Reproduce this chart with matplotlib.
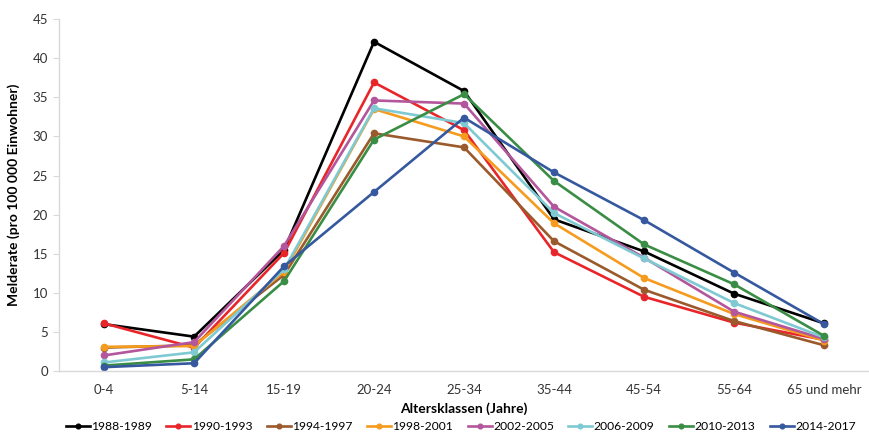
import matplotlib
matplotlib.use("Agg")
import matplotlib.pyplot as plt

categories = ["0-4", "5-14", "15-19", "20-24", "25-34", "35-44", "45-54", "55-64", "65 und mehr"]
series_names = ["1988-1989", "1990-1993", "1994-1997", "1998-2001", "2002-2005", "2006-2009", "2010-2013", "2014-2017"]
s1988 = [6.0, 4.4, 15.5, 42.1, 35.8, 19.4, 15.3, 9.9, 6.1]
s1990 = [6.1, 3.0, 15.1, 36.9, 30.8, 15.2, 9.5, 6.2, 4.0]
s1994 = [3.0, 3.3, 12.3, 30.4, 28.6, 16.6, 10.4, 6.4, 3.3]
s1998 = [3.1, 3.2, 12.7, 33.5, 30.0, 18.9, 11.9, 7.3, 3.9]
s2002 = [2.0, 3.7, 16.0, 34.6, 34.2, 21.0, 14.5, 7.6, 4.1]
s2006 = [1.1, 2.4, 13.0, 33.6, 31.7, 20.2, 14.4, 8.7, 4.3]
s2010 = [0.7, 1.5, 11.5, 29.6, 35.4, 24.3, 16.2, 11.1, 4.5]
s2014 = [0.5, 1.0, 13.4, 22.9, 32.4, 25.4, 19.3, 12.6, 6.0]
all_series = [s1988, s1990, s1994, s1998, s2002, s2006, s2010, s2014]
colors = ["#000000", "#e8262a", "#9a5a2b", "#f59b1d", "#b3569c", "#7fcad2", "#3a8d45", "#35589e"]

plt.rcParams['font.family'] = ['Lato', 'DejaVu Sans']

fig = plt.figure(figsize=(8.69, 4.34), dpi=100)
ax = fig.add_axes([0.068, 0.145, 0.932, 0.811])

x = list(range(len(categories)))
for name, vals, c in zip(series_names, all_series, colors):
    ax.plot(x, vals, color=c, lw=1.9, marker='o', ms=4.5, label=name)

ax.set_xlim(-0.5, len(categories) - 0.5)
ax.set_ylim(0, 45)
ax.set_yticks(range(0, 46, 5))
ax.set_xticks(x)
ax.set_xticklabels(categories)
for s in ["top", "right"]:
    ax.spines[s].set_visible(False)
for s in ["left", "bottom"]:
    ax.spines[s].set_color("#d9d9d9")
    ax.spines[s].set_linewidth(1.0)
ax.tick_params(axis='y', length=4, color="#d9d9d9", labelsize=9.5, labelcolor="#333333", pad=4)
ax.tick_params(axis='x', length=0, labelsize=9.5, labelcolor="#333333", pad=9)

ax.set_ylabel("Melderate (pro 100 000 Einwohner)", fontsize=10, fontweight='bold', labelpad=9)
ax.set_xlabel("Altersklassen (Jahre)", fontsize=10, fontweight='bold', labelpad=5)

leg = fig.legend(loc='lower center', bbox_to_anchor=(0.53, 0.0), ncol=8, frameon=False,
                 fontsize=8.7, handlelength=2.0, handletextpad=0.1, columnspacing=1.2,
                 markerscale=0.75, borderaxespad=0.0, borderpad=0.15)

fig.savefig("out.png", dpi=100)
